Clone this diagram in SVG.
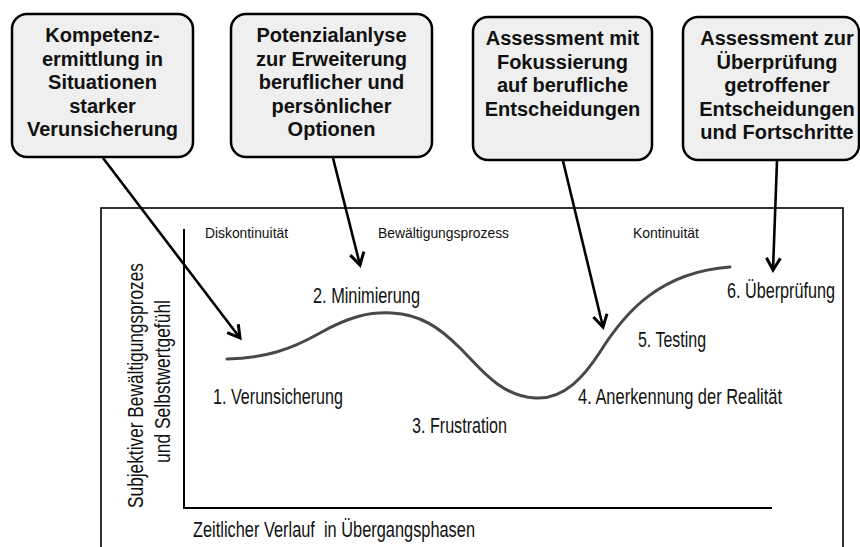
<svg xmlns="http://www.w3.org/2000/svg" width="860" height="547" viewBox="0 0 860 547">
  <style>
    .box { fill: #efefef; stroke: #000; stroke-width: 2.5; }
    .bt { font-family: "Liberation Sans", Arial, sans-serif; font-weight: bold; font-size: 20px; fill: #111; text-anchor: middle; }
    .lbl { font-family: "Liberation Sans", Arial, sans-serif; font-size: 21.5px; fill: #111; }
    .small { font-family: "Liberation Sans", Arial, sans-serif; font-size: 15px; fill: #111; }
    .conn { stroke: #000; stroke-width: 2.6; fill: none; marker-end: url(#arr); }
    .axis { stroke: #000; stroke-width: 2; fill: none; }
  </style>
  <defs>
    <marker id="arr" markerUnits="userSpaceOnUse" markerWidth="20" markerHeight="20" viewBox="-16 -10 20 20" refX="0" refY="0" orient="auto">
      <path d="M-12,-7 L0,0 L-12,7" fill="none" stroke="#000" stroke-width="3" stroke-linejoin="miter"/>
    </marker>
  </defs>
  <rect width="860" height="547" fill="#fff"/>

  <g id="frame">
    <rect x="101" y="208" width="742" height="360" fill="none" stroke="#000" stroke-width="1.6"/>
  </g>

  <g id="axes">
    <path class="axis" d="M184,229 L184,508 L772,508"/>
    <text class="lbl" x="193" y="537" textLength="282" lengthAdjust="spacingAndGlyphs" xml:space="preserve">Zeitlicher Verlauf  in Übergangsphasen</text>
    <text class="lbl" transform="translate(143,385.5) rotate(-90)" text-anchor="middle" textLength="245" lengthAdjust="spacingAndGlyphs">Subjektiver Bewältigungsprozes</text>
    <text class="lbl" transform="translate(170,381.5) rotate(-90)" text-anchor="middle" textLength="163" lengthAdjust="spacingAndGlyphs">und Selbstwertgefühl</text>
  </g>

  <g id="phases">
    <text class="small" x="205" y="238" textLength="83" lengthAdjust="spacingAndGlyphs">Diskontinuität</text>
    <text class="small" x="378" y="238" textLength="131" lengthAdjust="spacingAndGlyphs">Bewältigungsprozess</text>
    <text class="small" x="633" y="238" textLength="66" lengthAdjust="spacingAndGlyphs">Kontinuität</text>
  </g>

  <g id="curve">
    <path d="M227,359 C265,358 290,350 320,333 C350,316 370,312 392,313 C420,314 440,328 460,348 C480,368 500,396 535,398 C565,400 585,375 600,352 C625,312 660,272 730,267" fill="none" stroke="#484848" stroke-width="3" stroke-linecap="round"/>
  </g>

  <g id="stages">
    <text class="lbl" x="213" y="404" textLength="130" lengthAdjust="spacingAndGlyphs">1. Verunsicherung</text>
    <text class="lbl" x="313" y="303" textLength="107" lengthAdjust="spacingAndGlyphs">2. Minimierung</text>
    <text class="lbl" x="412" y="433" textLength="95" lengthAdjust="spacingAndGlyphs">3. Frustration</text>
    <text class="lbl" x="578" y="404" textLength="204" lengthAdjust="spacingAndGlyphs">4. Anerkennung der Realität</text>
    <text class="lbl" x="638" y="347" textLength="68" lengthAdjust="spacingAndGlyphs">5. Testing</text>
    <text class="lbl" x="727" y="298" textLength="108" lengthAdjust="spacingAndGlyphs">6. Überprüfung</text>
  </g>

  <g id="box1">
    <rect class="box" x="12" y="14" width="181" height="143" rx="15"/>
    <text class="bt" x="102.5" y="42">Kompetenz-</text>
    <text class="bt" x="102.5" y="65.5">ermittlung in</text>
    <text class="bt" x="102.5" y="89">Situationen</text>
    <text class="bt" x="102.5" y="112.5">starker</text>
    <text class="bt" x="102.5" y="136">Verunsicherung</text>
  </g>

  <g id="box2">
    <rect class="box" x="231" y="14" width="201" height="143" rx="15"/>
    <text class="bt" x="331.5" y="42">Potenzialanlyse</text>
    <text class="bt" x="331.5" y="65.5">zur Erweiterung</text>
    <text class="bt" x="331.5" y="89">beruflicher und</text>
    <text class="bt" x="331.5" y="112.5">persönlicher</text>
    <text class="bt" x="331.5" y="136">Optionen</text>
  </g>

  <g id="box3">
    <rect class="box" x="473" y="17" width="179" height="143" rx="15"/>
    <text class="bt" x="562.5" y="45">Assessment mit</text>
    <text class="bt" x="562.5" y="68.5">Fokussierung</text>
    <text class="bt" x="562.5" y="92">auf berufliche</text>
    <text class="bt" x="562.5" y="115.5">Entscheidungen</text>
  </g>

  <g id="box4">
    <rect class="box" x="683" y="17" width="176" height="143" rx="15"/>
    <text class="bt" x="777" y="45">Assessment zur</text>
    <text class="bt" x="777" y="68.5">Überprüfung</text>
    <text class="bt" x="777" y="92">getroffener</text>
    <text class="bt" x="777" y="115.5">Entscheidungen</text>
    <text class="bt" x="777" y="139">und Fortschritte</text>
  </g>

  <g id="connectors">
    <line class="conn" x1="103" y1="158" x2="240" y2="338"/>
    <line class="conn" x1="333" y1="158" x2="360" y2="265"/>
    <line class="conn" x1="563" y1="161" x2="603" y2="327"/>
    <line class="conn" x1="777" y1="161" x2="773" y2="270"/>
  </g>
</svg>
